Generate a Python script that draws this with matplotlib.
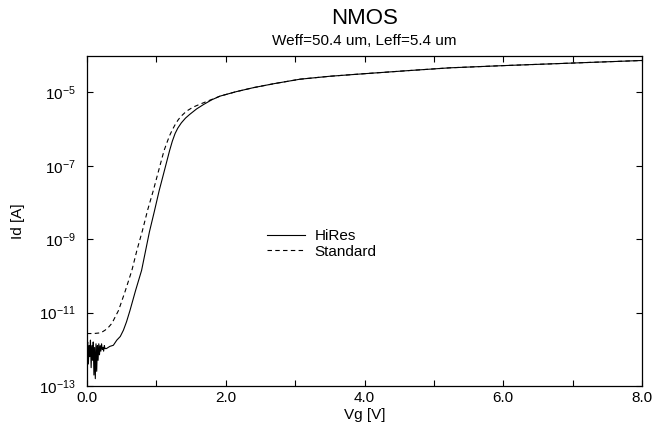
import numpy as np
import matplotlib
matplotlib.use('Agg')
import matplotlib.pyplot as plt

# police type Arial
plt.rcParams['font.family'] = ['Liberation Sans', 'DejaVu Sans']
plt.rcParams['mathtext.fontset'] = 'custom'
plt.rcParams['mathtext.rm'] = 'Liberation Sans'
plt.rcParams['mathtext.it'] = 'Liberation Sans'

# donnees (Vg en V, log10 de Id en A)
vg_hires = [0.00, 0.01, 0.02, 0.03, 0.04, 0.05, 0.06, 0.07, 0.08, 0.09,
            0.10, 0.11, 0.12, 0.13, 0.14, 0.15, 0.16, 0.17, 0.18, 0.19,
            0.20, 0.21, 0.22, 0.23, 0.24, 0.25, 0.26, 0.28, 0.33, 0.38,
            0.43, 0.48, 0.525, 0.57, 0.62, 0.70, 0.787, 0.90, 0.97, 1.04,
            1.12, 1.19, 1.23, 1.27, 1.31, 1.36, 1.42, 1.48, 1.58, 1.68,
            1.80, 1.92, 2.15, 2.40, 2.70, 3.07, 3.50, 4.00, 4.60, 5.23,
            6.00, 7.00, 8.00]
logid_hires = [-12.1, -11.8, -12.4, -11.9, -12.2, -11.75, -12.5, -11.9, -12.3, -11.8,
               -12.7, -11.95, -12.8, -11.85, -12.6, -11.9, -12.3, -11.85, -12.15, -11.9,
               -12.05, -11.85, -12.0, -11.95, -12.05, -11.9, -11.98, -11.98, -11.92, -11.89,
               -11.75, -11.65, -11.48, -11.25, -10.94, -10.4, -9.85, -8.8, -8.25, -7.68,
               -7.1, -6.59, -6.33, -6.12, -5.97, -5.83, -5.70, -5.60, -5.45, -5.33,
               -5.2, -5.10, -4.98, -4.87, -4.76, -4.64, -4.56, -4.49, -4.41, -4.33,
               -4.27, -4.2, -4.13]

vg_std = [0.00, 0.10, 0.20, 0.26, 0.31, 0.36, 0.455, 0.55, 0.647, 0.72,
          0.80, 0.875, 0.955, 1.03, 1.11, 1.15, 1.19, 1.23, 1.27, 1.31,
          1.35, 1.435, 1.53, 1.63, 1.80, 1.92, 2.15, 2.40, 2.70, 3.07,
          3.50, 4.00, 4.60, 5.23, 6.00, 7.00, 8.00]
logid_std = [-11.57, -11.57, -11.55, -11.48, -11.4, -11.29, -10.94, -10.42, -9.85, -9.3,
             -8.76, -8.2, -7.68, -7.15, -6.59, -6.38, -6.18, -6.02, -5.88, -5.76,
             -5.66, -5.51, -5.40, -5.32, -5.19, -5.10, -4.98, -4.87, -4.76, -4.64,
             -4.56, -4.49, -4.41, -4.33, -4.27, -4.2, -4.13]

x_ticks = [0, 2, 4, 6, 8]
x_ticklabels = ['0.0', '2.0', '4.0', '6.0', '8.0']
y_exps = [-13, -11, -9, -7, -5]

fig = plt.figure(figsize=(6.53, 4.24), dpi=100)
ax = fig.add_axes([0.1332, 0.0896, 0.85, 0.779])

ax.plot(vg_hires, 10.0 ** np.array(logid_hires), color='black', lw=0.8, label='HiRes')
ax.plot(vg_std, 10.0 ** np.array(logid_std), color='black', lw=0.8,
        dashes=(4, 3), label='Standard')

ax.set_yscale('log')
ax.set_xlim(0, 8)
ax.set_ylim(1e-13, 1e-4)

ax.set_xticks(x_ticks)
ax.set_xticklabels(x_ticklabels)
ax.set_xticks([1, 3, 5, 7], minor=True)
ax.set_yticks([10.0 ** e for e in y_exps])
ax.set_yticklabels([r'$10^{%d}$' % e for e in y_exps])
ax.yaxis.set_minor_locator(matplotlib.ticker.NullLocator())

ax.tick_params(which='both', direction='in', top=True, right=True,
               length=4, width=0.8, labelsize=11)
ax.tick_params(axis='y', pad=8)
for sp in ax.spines.values():
    sp.set_linewidth(0.9)

ax.set_xlabel('Vg [V]', fontsize=11, labelpad=2)
ax.set_ylabel('Id [A]', fontsize=11, labelpad=10)

fig.text(0.558, 0.957, 'NMOS', ha='center', va='center', fontsize=16)
fig.text(0.558, 0.903, 'Weff=50.4 um, Leff=5.4 um', ha='center', va='center', fontsize=11)

ax.legend(loc='center left', bbox_to_anchor=(0.30, 0.43), frameon=False,
          fontsize=11, handlelength=2.5, handletextpad=0.6, labelspacing=0.1)

fig.savefig('out.png', dpi=100)
